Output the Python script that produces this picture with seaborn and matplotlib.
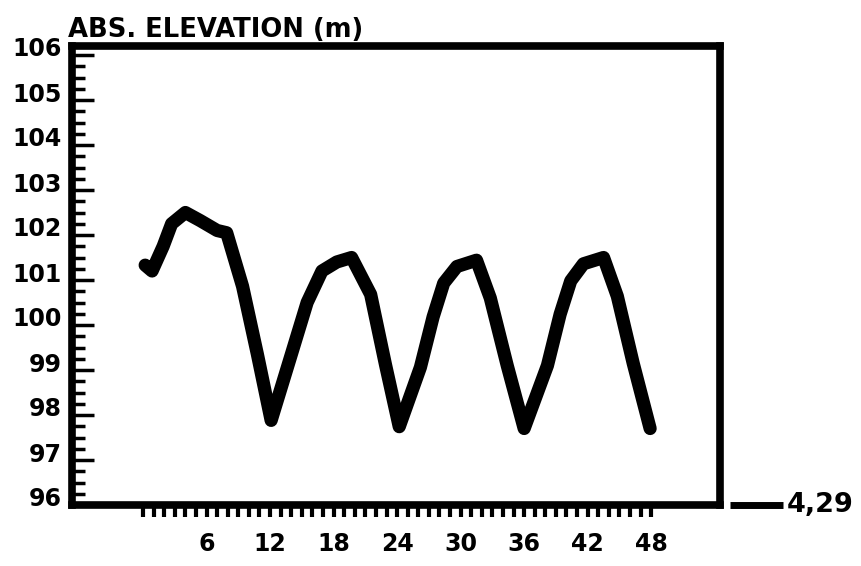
import matplotlib
matplotlib.use("Agg")
import matplotlib.pyplot as plt
import numpy as np
import pandas as pd
import seaborn as sns
from matplotlib.ticker import MultipleLocator, FixedLocator
from matplotlib.transforms import ScaledTranslation
from matplotlib.lines import Line2D

# ---- data ----
hours = [0.2, 0.85, 1.9, 2.7, 4.0, 5.4, 7.0, 7.9, 9.4, 10.8, 12.1, 14.05, 15.5,
         16.9, 18.3, 19.7, 21.5, 22.9, 24.2, 26.2, 27.4, 28.4, 29.65, 31.5,
         32.8, 34.4, 36.0, 38.2, 39.4, 40.4, 41.6, 43.5, 44.8, 46.3, 47.9]
elevation = [101.33, 101.2, 101.75, 102.25, 102.5, 102.32, 102.1, 102.05,
             100.86, 99.35, 97.88, 99.38, 100.5, 101.2, 101.4, 101.5,
             100.68, 99.12, 97.74, 99.06, 100.18, 100.93, 101.3, 101.44,
             100.6, 99.1, 97.7, 99.1, 100.24, 100.98, 101.36, 101.5,
             100.64, 99.15, 97.7]
x_tick_values = [6, 12, 18, 24, 30, 36, 42, 48]
y_tick_values = [96, 97, 98, 99, 100, 101, 102, 103, 104, 105, 106]
title_text = "ABS. ELEVATION (m)"
scale_text = "4,29"

sns.set_style("white")
plt.rcParams["font.family"] = ["DejaVu Sans"]
plt.rcParams["font.weight"] = "bold"
plt.rcParams["text.color"] = "black"
plt.rcParams["xtick.color"] = "black"
plt.rcParams["ytick.color"] = "black"
plt.rcParams["xtick.labelcolor"] = "black"
plt.rcParams["ytick.labelcolor"] = "black"

df = pd.DataFrame({"hour": hours, "elev": elevation})

fig = plt.figure(figsize=(8.62, 5.66), dpi=100)
fig.patch.set_facecolor("white")
ax = fig.add_axes([71.7 / 862, 1 - 505 / 566, (720 - 71.7) / 862, (505 - 46) / 566])
ax.set_facecolor("white")

sns.lineplot(data=df, x="hour", y="elev", ax=ax, estimator=None, sort=False,
             color="black", linewidth=9.5,
             solid_joinstyle="round", solid_capstyle="round")

ax.set_xlim(-6.74, 54.5)
ax.set_ylim(96, 106.2)
ax.set_xlabel("")
ax.set_ylabel("")

for s in ax.spines.values():
    s.set_visible(True)
    s.set_linewidth(5.5)
    s.set_color("black")

# y axis ticks
ax.yaxis.set_major_locator(FixedLocator(y_tick_values))
ax.set_yticklabels([str(v) for v in y_tick_values])
ax.yaxis.set_minor_locator(MultipleLocator(0.25))
ax.tick_params(axis="y", which="major", direction="in", length=15.5, width=2.5,
               left=True, right=False, labelsize=17, pad=7, color="black")
ax.tick_params(axis="y", which="minor", direction="in", length=9.5, width=2.5,
               left=True, right=False, color="black")

# x axis ticks
ax.xaxis.set_major_locator(FixedLocator(x_tick_values))
ax.set_xticklabels([str(v) for v in x_tick_values])
ax.xaxis.set_minor_locator(FixedLocator(list(range(0, 49))))
ax.tick_params(axis="x", which="both", direction="out", length=8.5, width=3,
               bottom=True, top=False, color="black")
ax.tick_params(axis="x", which="major", labelsize=17, pad=11)

for lbl in ax.get_yticklabels():
    lbl.set_fontweight("bold")
    lbl.set_color("black")
    lbl.set_transform(lbl.get_transform() + ScaledTranslation(0, 0.08, fig.dpi_scale_trans))
for lbl in ax.get_xticklabels():
    lbl.set_fontweight("bold")
    lbl.set_color("black")

fig.text(68 / 862, 1 - 30 / 566, title_text, ha="left", va="center",
         fontsize=18.6, fontweight="bold", color="black")

fig.add_artist(Line2D([730 / 862, 783 / 862], [1 - 505 / 566] * 2,
                      transform=fig.transFigure, color="black", lw=5,
                      solid_capstyle="butt"))
fig.text(787 / 862, 1 - 505 / 566, scale_text, ha="left", va="center",
         fontsize=19.5, fontweight="bold", color="black")

fig.savefig("out.png", dpi=100)
